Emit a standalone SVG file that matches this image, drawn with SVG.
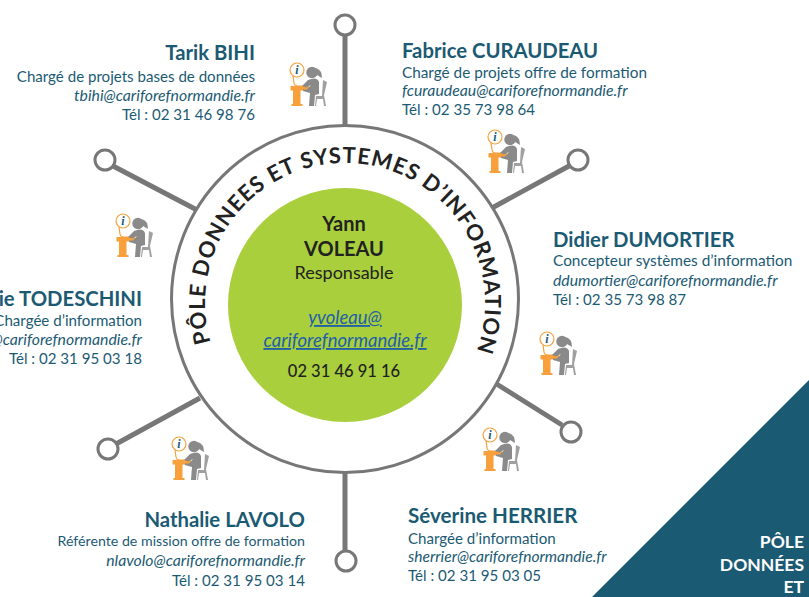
<svg xmlns="http://www.w3.org/2000/svg" width="809" height="597" viewBox="0 0 809 597">
<style>
text{font-family:"Lato","Open Sans",sans-serif}
.n{font-size:20.300px;font-weight:700;fill:#1b5a73}
.r{font-size:15.100px;fill:#1b5a73}
.m{font-size:15.800px;font-style:italic;fill:#1b5a73}
.e{text-anchor:end}
.line{stroke:#777;stroke-width:5;fill:none}
.end{stroke:#777;stroke-width:3;fill:#fff}
.c{text-anchor:middle;fill:#222}
</style>
<defs>
<g id="icon">
<circle cx="7" cy="7" r="7" fill="#fff" stroke="#f7a03c" stroke-width="1.200"/>
<path d="M3 13 L4 20 Q4.500 23 8 23 L13 23" fill="none" stroke="#f7a03c" stroke-width="1.200"/>
<path d="M0.500 23H19V27.500H10.500V41H12.500V43H1.500V41H3V27.500H0.500Z" fill="#f7a03c"/>
<circle cx="22" cy="9.500" r="5.700" fill="#8a8a8a"/>
<path d="M26 5 Q32 7 32 15 L27 12Z" fill="#8a8a8a"/>
<path d="M18 17 Q27 13 29 19 L29 31 L25 32 L24 43 H19 L20 30 L13 28 V26.500 H17 L21 22 L16 24.500 L12 23 Z" fill="#8a8a8a"/>
<path d="M33 17 L37 19 L34 32 L36 43 H34 L33 36 H27 L26 43 H25 L26 33 H32Z" fill="#a0a0a0"/>
<text x="7" y="11" font-size="12" font-weight="700" font-style="italic" fill="#1b5a73" text-anchor="middle" style="font-family:'Liberation Serif',serif">i</text>
</g>
</defs>
<path id="corner" d="M809 380V597H592Z" fill="#1b5a73"/>
<g font-size="17.500" font-weight="700" fill="#fff" text-anchor="end">
<text x="804" y="548">PÔLE</text>
<text x="804" y="571">DONNÉES</text>
<text x="804" y="593">ET</text>
</g>
<g id="connectors">
<path class="line" d="M345 125V35M492 208L569 166M495 383L562 425M345 472V551M200 398L116 444M197 210L113 166"/>
</g>
<g id="hub">
<circle cx="345" cy="299" r="173.500" fill="#fff" stroke="#777" stroke-width="3"/>
<path id="arc" d="M237.800 393A140 140 0 1 1 452.200 393" fill="none" transform="rotate(1 345 303)"/>
<text font-size="22" font-weight="700" letter-spacing="0.900" fill="#222" text-anchor="middle" transform="rotate(1 345 303)"><textPath href="#arc" startOffset="50%">PÔLE DONNEES ET SYSTEMES D’INFORMATION</textPath></text>
</g>
<g id="responsable">
<circle cx="345" cy="305" r="117" fill="#a9cf3c"/>
<text class="c" x="344" y="231" font-size="20" font-weight="700">Yann</text>
<text class="c" x="344" y="256" font-size="20" font-weight="700">VOLEAU</text>
<text class="c" x="344" y="279" font-size="18">Responsable</text>
<text x="345" y="324" font-size="18.500" font-style="italic" fill="#1f5fa8" text-anchor="middle" text-decoration="underline">yvoleau@</text>
<text x="345" y="347" font-size="18.500" font-style="italic" fill="#1f5fa8" text-anchor="middle" text-decoration="underline">cariforefnormandie.fr</text>
<text class="c" x="344" y="377" font-size="16.500" font-weight="500">02 31 46 91 16</text>
</g>
<g id="tarik">
<circle class="end" cx="345" cy="25" r="10"/>
<use href="#icon" x="290" y="63"/>
<text class="n e" x="255" y="60">Tarik BIHI</text>
<text class="r e" x="255" y="82">Chargé de projets bases de données</text>
<text class="m e" x="255" y="101">tbihi@cariforefnormandie.fr</text>
<text class="r e" x="255" y="120">Tél : 02 31 46 98 76</text>
</g>
<g id="fabrice">
<circle class="end" cx="578" cy="160" r="10"/>
<use href="#icon" x="488" y="130"/>
<text class="n" x="402" y="58">Fabrice CURAUDEAU</text>
<text class="r" x="402" y="78" style="font-size:15.300px">Chargé de projets offre de formation</text>
<text class="m" x="402" y="96">fcuraudeau@cariforefnormandie.fr</text>
<text class="r" x="402" y="115">Tél : 02 35 73 98 64</text>
</g>
<g id="didier">
<circle class="end" cx="571" cy="432" r="10"/>
<use href="#icon" x="540" y="332"/>
<text class="n" x="553" y="247">Didier DUMORTIER</text>
<text class="r" x="553" y="266" style="font-size:15.400px">Concepteur systèmes d’information</text>
<text class="m" x="553" y="286">ddumortier@cariforefnormandie.fr</text>
<text class="r" x="553" y="305">Tél : 02 35 73 98 87</text>
</g>
<g id="severine">
<circle class="end" cx="346" cy="561" r="10"/>
<use href="#icon" x="483" y="428"/>
<text class="n" x="408" y="523" style="font-size:20.600px">Séverine HERRIER</text>
<text class="r" x="408" y="544">Chargée d’information</text>
<text class="m" x="408" y="562" style="font-size:15.600px">sherrier@cariforefnormandie.fr</text>
<text class="r" x="408" y="581">Tél : 02 31 95 03 05</text>
</g>
<g id="nathalie">
<circle class="end" cx="108" cy="449" r="10"/>
<use href="#icon" x="172" y="437"/>
<text class="n e" x="305" y="527">Nathalie LAVOLO</text>
<text class="r e" x="305" y="546" style="font-size:14.200px">Référente de mission offre de formation</text>
<text class="m e" x="305" y="566">nlavolo@cariforefnormandie.fr</text>
<text class="r e" x="305" y="586">Tél : 02 31 95 03 14</text>
</g>
<g id="todeschini">
<circle class="end" cx="105" cy="160" r="10"/>
<use href="#icon" x="116" y="214"/>
<text class="n e" x="142" y="306">ie TODESCHINI</text>
<text class="r e" x="142" y="326">Chargée d’information</text>
<text class="m e" x="142" y="345">@cariforefnormandie.fr</text>
<text class="r e" x="142" y="364">Tél : 02 31 95 03 18</text>
</g>
</svg>
